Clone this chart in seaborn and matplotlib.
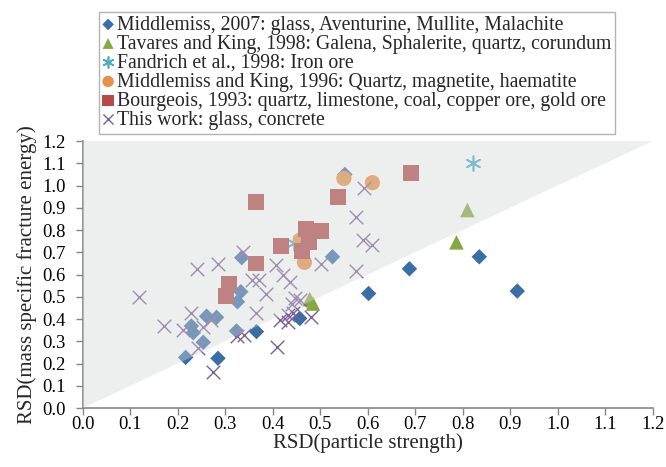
import matplotlib
matplotlib.use("Agg")
import matplotlib.pyplot as plt
import seaborn as sns
import pandas as pd

# Datos
mid2007_x = [0.552, 0.335, 0.526, 0.333, 0.326, 0.261, 0.282, 0.229, 0.233, 0.254,
             0.217, 0.285, 0.324, 0.366, 0.457, 0.602, 0.688, 0.835, 0.915]
mid2007_y = [1.050, 0.676, 0.680, 0.523, 0.478, 0.413, 0.408, 0.369, 0.339, 0.296,
             0.228, 0.224, 0.347, 0.344, 0.403, 0.515, 0.626, 0.680, 0.526]

tavares_x = [0.810, 0.787, 0.478, 0.485]
tavares_y = [0.890, 0.745, 0.490, 0.470]

fandrich_x = [0.822, 0.445]
fandrich_y = [1.100, 0.740]

midking_x = [0.550, 0.610, 0.467, 0.458]
midking_y = [1.032, 1.013, 0.655, 0.755]

bourgeois_x = [0.692, 0.538, 0.365, 0.470, 0.501, 0.476, 0.417, 0.462, 0.365, 0.309, 0.301]
bourgeois_y = [1.055, 0.947, 0.927, 0.804, 0.797, 0.745, 0.728, 0.707, 0.650, 0.560, 0.502]

thiswork_x = [0.592, 0.575, 0.591, 0.609, 0.575, 0.501, 0.408, 0.422, 0.436, 0.338,
              0.285, 0.241, 0.118, 0.171, 0.229, 0.212, 0.254, 0.270, 0.356, 0.372,
              0.387, 0.365, 0.243, 0.274, 0.324, 0.340, 0.410, 0.415, 0.433, 0.433,
              0.457, 0.440, 0.447, 0.443, 0.480]
thiswork_y = [0.990, 0.857, 0.755, 0.731, 0.615, 0.647, 0.643, 0.600, 0.568, 0.703,
              0.647, 0.626, 0.500, 0.367, 0.427, 0.352, 0.363, 0.397, 0.575, 0.575,
              0.514, 0.427, 0.270, 0.163, 0.324, 0.328, 0.276, 0.395, 0.418, 0.388,
              0.485, 0.470, 0.493, 0.426, 0.408]

labels = [
    "Middlemiss, 2007: glass, Aventurine, Mullite, Malachite",
    "Tavares and King, 1998: Galena, Sphalerite, quartz, corundum",
    "Fandrich et al., 1998: Iron ore",
    "Middlemiss and King, 1996: Quartz, magnetite, haematite",
    "Bourgeois, 1993: quartz, limestone, coal, copper ore, gold ore",
    "This work: glass, concrete",
]
ticks = [0.0, 0.1, 0.2, 0.3, 0.4, 0.5, 0.6, 0.7, 0.8, 0.9, 1.0, 1.1, 1.2]

series = [
    (mid2007_x, mid2007_y, "D", "#3c6ea6", 62, 0),
    (tavares_x, tavares_y, "^", "#86a844", 110, 0),
    (fandrich_x, fandrich_y, (6, 2, 0), "#4bacc6", 110, 1.2),
    (midking_x, midking_y, "o", "#e8914a", 120, 0),
    (bourgeois_x, bourgeois_y, "s", "#b34b4b", 130, 0),
    (thiswork_x, thiswork_y, "x", "#7d5f9a", 95, 1.0),
]

sns.set_style("white")
plt.rcParams["font.family"] = ["Liberation Serif", "DejaVu Serif"]

fig = plt.figure(figsize=(6.66, 4.67), dpi=100)
ax = fig.add_axes([0.124, 0.126, 0.856, 0.572])

for (xs, ys, mk, col, size, lw), lab in zip(series, labels):
    df = pd.DataFrame({"x": xs, "y": ys})
    sns.scatterplot(data=df, x="x", y="y", marker=mk, color=col, s=size,
                    linewidth=lw, edgecolor=col if lw else "none", label=lab,
                    ax=ax, zorder=2)

# zona sombreada por encima de y = x (cubre los puntos)
ax.fill([0, 1.2, 0], [0, 1.2, 1.2], color="#d3d6d6", alpha=0.4, lw=0, zorder=5)

ax.set_xlim(0, 1.2)
ax.set_ylim(0, 1.2)
ax.set_xticks(ticks)
ax.set_yticks(ticks)
ax.set_xticklabels([f"{t:.1f}" for t in ticks])
ax.set_yticklabels([f"{t:.1f}" for t in ticks])
ax.tick_params(axis="both", direction="out", length=5, width=1, color="#868686",
               labelsize=13.3, labelcolor="black", bottom=True, left=True)
ax.tick_params(axis="x", pad=1)
ax.tick_params(axis="y", pad=7)
for side in ["top", "right"]:
    ax.spines[side].set_visible(False)
for side in ["left", "bottom"]:
    ax.spines[side].set_color("#868686")
    ax.spines[side].set_linewidth(1.2)

ax.set_xlabel("RSD(particle strength)", fontsize=15, labelpad=0)
ax.set_ylabel("RSD(mass specific fracture energy)", fontsize=15, labelpad=4)

ax.legend(loc="upper left", fontsize=14.2, frameon=True, fancybox=False,
          edgecolor="#a0a0a0", markerscale=0.75, handlelength=0.5,
          handletextpad=0.2, borderpad=0.2, labelspacing=0.0, borderaxespad=0)
leg = ax.get_legend()
leg.set_bbox_to_anchor((0.149, 0.975), transform=fig.transFigure)
leg.get_frame().set_linewidth(1.0)

fig.savefig("out.png", dpi=100)
